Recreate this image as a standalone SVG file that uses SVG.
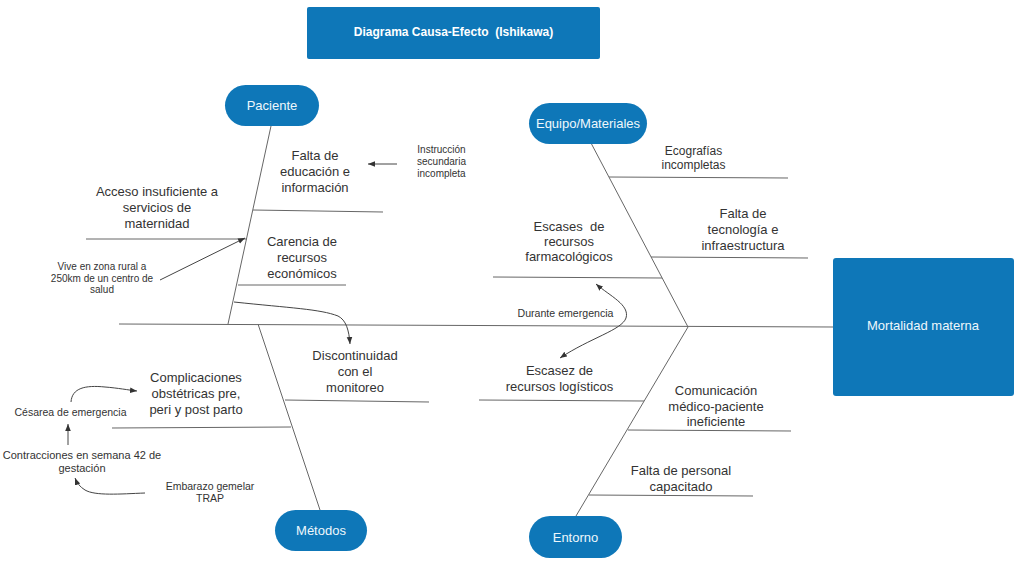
<svg xmlns="http://www.w3.org/2000/svg" width="1020" height="574" viewBox="0 0 1020 574">
<style>
.bg{fill:#ffffff}
.blue{fill:#0e77b8}
.wt{fill:#eef7fc;font-family:"Liberation Sans",Arial,sans-serif;font-size:13px;text-anchor:middle}
.title{fill:#ffffff;font-family:"Liberation Sans",Arial,sans-serif;font-size:12px;font-weight:bold;text-anchor:middle;white-space:pre}
.lbl{fill:#333333;font-family:"Liberation Sans",Arial,sans-serif;font-size:13px;text-anchor:middle;white-space:pre}
.sm{fill:#333333;font-family:"Liberation Sans",Arial,sans-serif;font-size:10px;text-anchor:middle}
.ln{stroke:#666666;stroke-width:1;fill:none}
.ar{stroke:#444444;stroke-width:1;fill:none}
</style>
<defs>
<marker id="ah" viewBox="0 0 10 10" refX="10" refY="5" markerWidth="7" markerHeight="7" markerUnits="userSpaceOnUse" orient="auto-start-reverse">
<path d="M0,1 L10,5 L0,9 z" fill="#333333"/>
</marker>
</defs>
<rect class="bg" x="0" y="0" width="1020" height="574"/>

<g id="connectors">
<line class="ln" x1="119" y1="324" x2="833" y2="327"/>
<line class="ln" x1="271" y1="126" x2="228" y2="324"/>
<line class="ln" x1="258" y1="324" x2="320" y2="510"/>
<line class="ln" x1="591" y1="143" x2="688" y2="327"/>
<line class="ln" x1="688" y1="327" x2="576" y2="516"/>
<line class="ln" x1="253" y1="210" x2="383" y2="212"/>
<line class="ln" x1="86" y1="239" x2="247" y2="239"/>
<line class="ln" x1="238" y1="285" x2="346" y2="285"/>
<line class="ln" x1="285" y1="400" x2="429" y2="402"/>
<line class="ln" x1="112" y1="428" x2="291" y2="427"/>
<line class="ln" x1="609" y1="177" x2="788" y2="178"/>
<line class="ln" x1="651" y1="257" x2="808" y2="258"/>
<line class="ln" x1="493" y1="277" x2="662" y2="278"/>
<line class="ln" x1="479" y1="400" x2="644" y2="401"/>
<line class="ln" x1="628" y1="430" x2="791" y2="431"/>
<line class="ln" x1="589" y1="495" x2="753" y2="496"/>
<line class="ar" x1="397" y1="164" x2="368" y2="164" marker-end="url(#ah)"/>
<line class="ar" x1="160" y1="280" x2="245" y2="238" marker-end="url(#ah)"/>
<path class="ar" d="M234,302 C290,308 320,309 338,316 C346,320 349,330 350,344" marker-end="url(#ah)"/>
<path class="ar" d="M71,402 C72,388 85,385 105,387 C118,388 128,390 137,391" marker-end="url(#ah)"/>
<line class="ar" x1="68" y1="445" x2="68" y2="424" marker-end="url(#ah)"/>
<path class="ar" d="M145,493 C120,494 95,496 85,490 C80,487 77,483 75,478" marker-end="url(#ah)"/>
<path class="ar" d="M596,284 C610,296 630,305 626,318 C622,330 590,338 560,358" marker-start="url(#ah)" marker-end="url(#ah)"/>
</g>

<g id="title">
<rect class="blue" x="307" y="7" width="293" height="52" rx="2"/>
<text class="title" x="453.5" y="36">Diagrama Causa-Efecto  (Ishikawa)</text>
</g>

<g id="effect">
<rect class="blue" x="833" y="258" width="181" height="138" rx="3"/>
<text class="wt" x="923" y="330">Mortalidad materna</text>
</g>

<g id="paciente">
<rect class="blue" x="225" y="85" width="94" height="41" rx="20.5"/>
<text class="wt" x="272" y="110">Paciente</text>
</g>
<g id="equipo">
<rect class="blue" x="529" y="103" width="118" height="41" rx="20.5"/>
<text class="wt" x="588" y="128">Equipo/Materiales</text>
</g>
<g id="metodos">
<rect class="blue" x="275" y="510" width="92" height="41" rx="20.5"/>
<text class="wt" x="321" y="534.5">Métodos</text>
</g>
<g id="entorno">
<rect class="blue" x="529" y="516" width="93" height="42" rx="21"/>
<text class="wt" x="575.5" y="541.5">Entorno</text>
</g>

<g id="falta-educacion">
<text class="lbl" x="315" y="160">Falta de</text>
<text class="lbl" x="315" y="176">educación e</text>
<text class="lbl" x="315" y="192">información</text>
</g>
<g id="instruccion">
<text class="sm" x="441.5" y="152.5">Instrucción</text>
<text class="sm" x="441.5" y="164.5">secundaria</text>
<text class="sm" x="441.5" y="176.5">incompleta</text>
</g>
<g id="acceso">
<text class="lbl" x="157" y="196">Acceso insuficiente a</text>
<text class="lbl" x="157" y="212">servicios de</text>
<text class="lbl" x="157" y="227.5">maternidad</text>
</g>
<g id="carencia">
<text class="lbl" x="302" y="246">Carencia de</text>
<text class="lbl" x="302" y="262">recursos</text>
<text class="lbl" x="302" y="277.5">económicos</text>
</g>
<g id="vive">
<text class="sm" x="102" y="269.5">Vive en zona rural a</text>
<text class="sm" x="102" y="281.5">250km de un centro de</text>
<text class="sm" x="102" y="293">salud</text>
</g>
<g id="discontinuidad">
<text class="lbl" x="355" y="359.5">Discontinuidad</text>
<text class="lbl" x="355" y="376">con el</text>
<text class="lbl" x="355" y="391.5">monitoreo</text>
</g>
<g id="complicaciones">
<text class="lbl" x="196" y="381.5">Complicaciones</text>
<text class="lbl" x="196" y="397.5">obstétricas pre,</text>
<text class="lbl" x="196" y="413.5">peri y post parto</text>
</g>
<g id="cesarea">
<text class="sm" x="70.5" y="416" style="font-size:10.5px">Césarea de emergencia</text>
</g>
<g id="contracciones">
<text class="sm" x="82" y="459" style="font-size:11px">Contracciones en semana 42 de</text>
<text class="sm" x="82" y="472" style="font-size:11px">gestación</text>
</g>
<g id="embarazo">
<text class="sm" x="210" y="489.5" style="font-size:10.5px">Embarazo gemelar</text>
<text class="sm" x="210" y="501.5" style="font-size:10.5px">TRAP</text>
</g>
<g id="ecografias">
<text class="lbl" x="693.5" y="154.5" style="font-size:12px">Ecografías</text>
<text class="lbl" x="693.5" y="168.5" style="font-size:12px">incompletas</text>
</g>
<g id="falta-tecnologia">
<text class="lbl" x="743" y="217.5">Falta de</text>
<text class="lbl" x="743" y="234">tecnología e</text>
<text class="lbl" x="743" y="250">infraestructura</text>
</g>
<g id="escases">
<text class="lbl" x="569" y="231">Escases  de</text>
<text class="lbl" x="569" y="246">recursos</text>
<text class="lbl" x="569" y="261">farmacológicos</text>
</g>
<g id="durante">
<text class="sm" x="565.5" y="317" style="font-size:10.6px">Durante emergencia</text>
</g>
<g id="escasez">
<text class="lbl" x="559.5" y="375">Escasez de</text>
<text class="lbl" x="559.5" y="391">recursos logísticos</text>
</g>
<g id="comunicacion">
<text class="lbl" x="716" y="394.5">Comunicación</text>
<text class="lbl" x="716" y="410.5">médico-paciente</text>
<text class="lbl" x="716" y="425.5">ineficiente</text>
</g>
<g id="falta-personal">
<text class="lbl" x="681" y="475">Falta de personal</text>
<text class="lbl" x="681" y="490.5">capacitado</text>
</g>
</svg>
